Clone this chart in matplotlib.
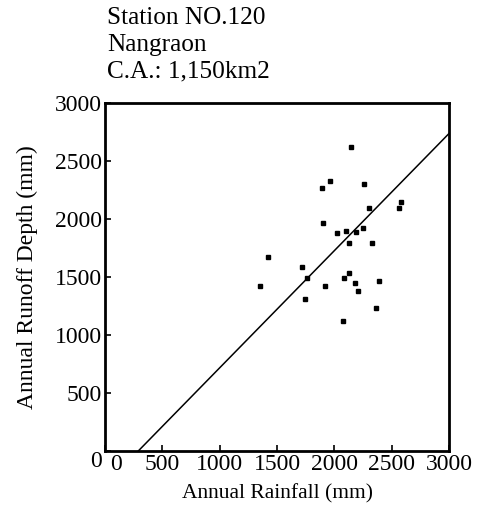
import numpy as np
import matplotlib.pyplot as plt
import matplotlib.transforms as mtransforms

# data
rainfall = [2145, 1965, 1893, 2261, 2580, 2565, 2298, 1904, 2023, 2101,
            2188, 2246, 2125, 2328, 1420, 1719, 1760, 1348, 1922, 2087,
            2130, 2183, 2203, 2386, 1748, 2362, 2072]
runoff = [2618, 2328, 2265, 2302, 2149, 2092, 2092, 1963, 1877, 1897,
          1885, 1920, 1796, 1796, 1675, 1589, 1489, 1422, 1422, 1489,
          1532, 1446, 1382, 1466, 1310, 1230, 1121]

# regression line  runoff = slope * rainfall + intercept
slope = 1.01
intercept = -293.0
line_x = [290, 3000]

ticks = [0, 500, 1000, 1500, 2000, 2500, 3000]
title_lines = ["Station NO.120", "Nangraon", "C.A.: 1,150km2"]

plt.rcParams['font.family'] = ['Liberation Serif', 'DejaVu Serif']

fig = plt.figure(figsize=(4.81, 5.29), dpi=100)
ax = fig.add_axes([105 / 481, 1 - 451 / 529, 344 / 481, 348 / 529])

ax.plot(rainfall, runoff, 's', color='black', markersize=3)
lx = np.array(line_x)
ax.plot(lx, slope * lx + intercept, color='black', lw=1.1)

ax.set_xlim(0, 3000)
ax.set_ylim(0, 3000)
ax.set_xticks(ticks)
ax.set_yticks(ticks)
ax.tick_params(direction='in', length=4, width=1.2, labelsize=17, pad=2)
for s in ax.spines.values():
    s.set_linewidth(2)

# the zero labels sit a little off the corner in the original
fig.canvas.draw()
xl0 = ax.get_xticklabels()[0]
xl0.set_transform(xl0.get_transform() + mtransforms.ScaledTranslation(0.11, 0, fig.dpi_scale_trans))
yl0 = ax.get_yticklabels()[0]
yl0.set_transform(yl0.get_transform() + mtransforms.ScaledTranslation(0, -0.08, fig.dpi_scale_trans))

ax.set_xlabel("Annual Rainfall (mm)", fontsize=15.5, labelpad=7)
ax.set_ylabel("Annual Runoff Depth (mm)", fontsize=17, labelpad=12)

for i, t in enumerate(title_lines):
    fig.text(107 / 481, 1 - (24 + 26.5 * i) / 529, t, fontsize=18.2,
             ha='left', va='baseline')

fig.savefig("out.png", dpi=100)
